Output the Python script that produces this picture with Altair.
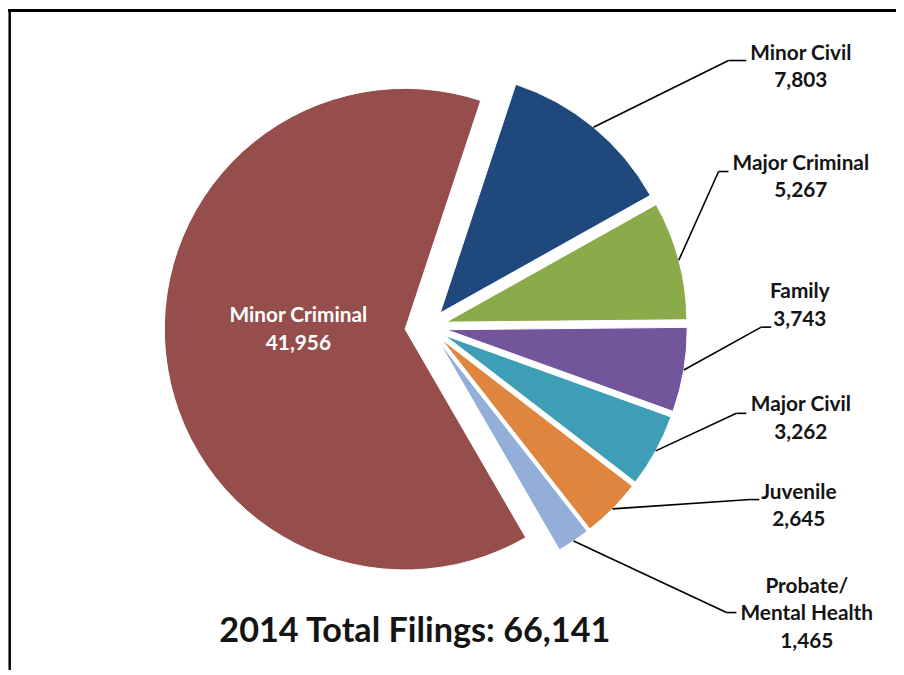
import math
import altair as alt
import pandas as pd

# ---------------- data ----------------
categories = ["Minor Civil", "Major Criminal", "Family", "Major Civil",
              "Juvenile", "Probate/Mental Health", "Minor Criminal"]
label_names = ["Minor Civil", "Major Criminal", "Family", "Major Civil",
               "Juvenile", "Probate/\nMental Health", "Minor Criminal"]
values = [7803, 5267, 3743, 3262, 2645, 1465, 41956]
title_text = "2014 Total Filings: 66,141"

# ---------------- style / layout ----------------
colors = ["#1F497D", "#8BAA4A", "#72559A", "#3E9EB5", "#E0853D", "#94AEDA", "#954E4C"]
PAD = 5
M = 8 + PAD                      # page offset of chart origin
W, H = 886, 655
START = math.radians(18.3)       # first slice angle
CX, CY = 432.6 - M, 326.6 - M    # pie centre
R = 243
EXPLODE_DEFAULT = 18
EXPLODE = {"Minor Criminal": 24}
FONT = "Lato"
TEXT_COLOR = "#141414"
# text centre x, first baseline y, (elbow x, elbow y, end x)  -- page coords
LABELS = {
    "Minor Criminal": (301, 322, None),
    "Minor Civil": (808, 57, (735, 58, 753)),
    "Major Criminal": (808, 168, (725, 170, 735)),
    "Family": (807, 298, (768, 327, 778)),
    "Major Civil": (808, 412, (743, 414, 753)),
    "Juvenile": (806, 500, (757, 501, 766)),
    "Probate/Mental Health": (814, 595, (733, 615, 743)),
}

rows = []
for i, (c, ln, v) in enumerate(zip(categories, label_names, values)):
    tx, ty, el = LABELS[c]
    rows.append({
        "category": c,
        "value": v,
        "idx": i,
        "label": f"{ln}\n{v:,}",
        "explode": EXPLODE.get(c, EXPLODE_DEFAULT),
        "tx": tx - M, "ty": ty - M,
        "ex": (el[0] - M) if el else None,
        "ey": (el[1] - M) if el else None,
        "ex2": (el[2] - M) if el else None,
        "leader": el is not None,
        "tcolor": "white" if el is None else TEXT_COLOR,
    })
df = pd.DataFrame(rows)
TOTAL = sum(values)

base = (
    alt.Chart(df)
    .transform_joinaggregate(total="sum(value)")
    .transform_window(cum="sum(value)", sort=[alt.SortField("idx")])
    .transform_calculate(t0="datum.cum - datum.value", t1="datum.cum")
    .transform_calculate(mid=f"{START} + 2*PI*(datum.cum - datum.value/2)/datum.total")
    .transform_calculate(cx=f"{CX} + datum.explode*sin(datum.mid)")
    .transform_calculate(cy=f"{CY} - datum.explode*cos(datum.mid)")
    .transform_calculate(lx=f"datum.cx + {R}*sin(datum.mid)")
    .transform_calculate(ly=f"datum.cy - {R}*cos(datum.mid)")
)

arcs = base.mark_arc(outerRadius=R, stroke="white", strokeWidth=1).encode(
    theta=alt.Theta("t0:Q", scale=alt.Scale(domain=[0, TOTAL],
                                            range=[START, START + 2 * math.pi],
                                            zero=True, nice=False)),
    theta2="t1:Q",
    x=alt.X("cx:Q", scale=None, axis=None, stack=False),
    y=alt.Y("cy:Q", scale=None, axis=None, stack=False),
    color=alt.Color("category:N", scale=alt.Scale(domain=categories, range=colors), legend=None),
)

lead1 = base.transform_filter("datum.leader").mark_rule(color="black", strokeWidth=1.6).encode(
    x=alt.X("lx:Q", scale=None, axis=None),
    y=alt.Y("ly:Q", scale=None, axis=None),
    x2="ex:Q",
    y2="ey:Q",
)
lead2 = base.transform_filter("datum.leader").mark_rule(color="black", strokeWidth=1.6).encode(
    x=alt.X("ex:Q", scale=None, axis=None),
    y=alt.Y("ey:Q", scale=None, axis=None),
    x2="ex2:Q",
    y2="ey:Q",
)

labels = base.mark_text(font=FONT, fontSize=21, fontWeight="bold", lineBreak="\n",
                        lineHeight=28, align="center", baseline="alphabetic").encode(
    x=alt.X("tx:Q", scale=None, axis=None),
    y=alt.Y("ty:Q", scale=None, axis=None),
    text="label:N",
    color=alt.Color("tcolor:N", scale=None),
)

title = alt.Chart(pd.DataFrame({"t": [title_text]})).mark_text(
    font=FONT, fontSize=34.5, fontWeight="bold", align="center", baseline="alphabetic",
    color=TEXT_COLOR).encode(
    x=alt.value(418.5 - M), y=alt.value(645 - M), text="t:N")

frame_df = pd.DataFrame({"k": [0]})
top_line = alt.Chart(frame_df).mark_rule(color="black", strokeWidth=3).encode(
    x=alt.value(-PAD), x2=alt.value(W + PAD), y=alt.value(7.5 - M))
left_line = alt.Chart(frame_df).mark_rule(color="black", strokeWidth=2.5).encode(
    x=alt.value(9.7 - M), y=alt.value(6 - M), y2=alt.value(H + PAD))

chart = alt.layer(arcs, lead1, lead2, labels, title, top_line, left_line).properties(
    width=W, height=H, padding=PAD, autosize=alt.AutoSizeParams(type="none"),
).configure_view(stroke=None)

chart.save("out.html", embed_options={"renderer": "svg", "actions": False})
